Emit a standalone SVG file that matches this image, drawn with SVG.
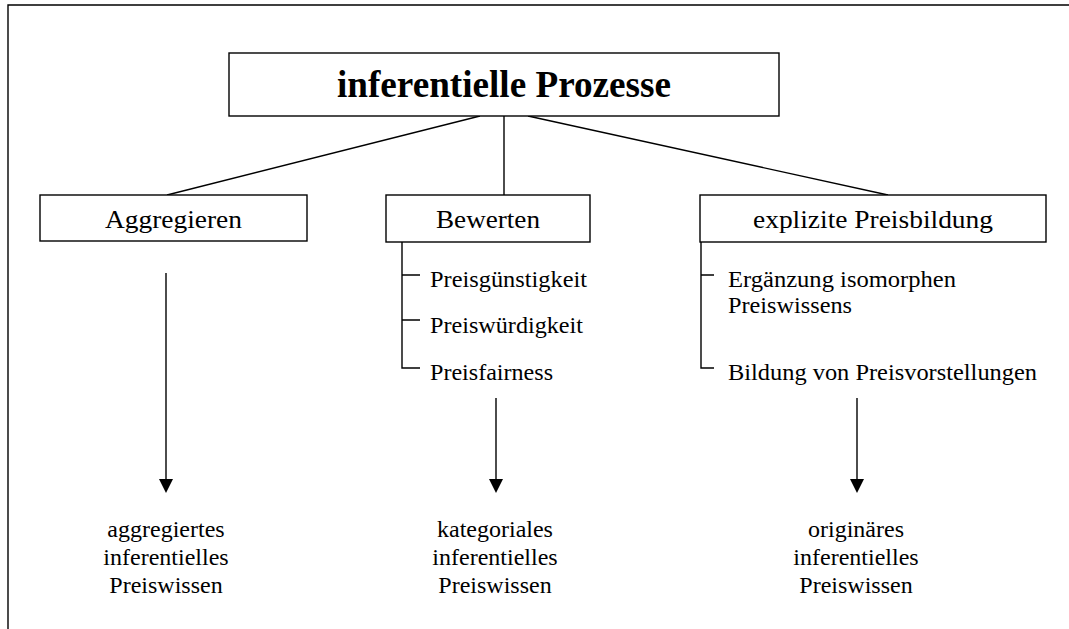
<svg xmlns="http://www.w3.org/2000/svg" width="1069" height="629" viewBox="0 0 1069 629">
<style>
  .box { fill: #ffffff; stroke: #000000; stroke-width: 1.4; }
  .ln { fill: none; stroke: #000000; stroke-width: 1.4; }
  .t { font-family: "Liberation Serif", "Times New Roman", serif; fill: #000000; }
  .title { font-size: 37px; font-weight: bold; text-anchor: middle; }
  .lbl { font-size: 25px; text-anchor: middle; }
  .sub { font-size: 24px; }
  .res { font-size: 24px; text-anchor: middle; }
  .head { fill: #000000; }
</style>
<rect width="1069" height="629" fill="#ffffff"/>
<path class="ln" d="M8,629 V5 H1069"/>

<g id="connectors">
  <line class="ln" x1="480" y1="116" x2="167" y2="195"/>
  <line class="ln" x1="504" y1="116" x2="504" y2="195"/>
  <line class="ln" x1="528" y1="116" x2="888" y2="195"/>
  <path class="ln" d="M402,242 V368 H420 M402,275 H420 M402,320 H420"/>
  <path class="ln" d="M701,242 V368 H714 M701,275 H714"/>
  <line class="ln" x1="166" y1="273" x2="166" y2="481"/>
  <polygon class="head" points="159,479 173,479 166,493"/>
  <line class="ln" x1="496" y1="398" x2="496" y2="481"/>
  <polygon class="head" points="489,479 503,479 496,493"/>
  <line class="ln" x1="857" y1="398" x2="857" y2="481"/>
  <polygon class="head" points="850,479 864,479 857,493"/>
</g>

<g id="root">
  <rect class="box" x="229" y="53" width="550" height="63"/>
  <text class="t title" x="504" y="97" textLength="334" lengthAdjust="spacingAndGlyphs">inferentielle Prozesse</text>
</g>

<g id="aggregieren">
  <rect class="box" x="40" y="195" width="267" height="46"/>
  <text class="t lbl" x="173.5" y="228" textLength="137" lengthAdjust="spacingAndGlyphs">Aggregieren</text>
</g>

<g id="bewerten">
  <rect class="box" x="386" y="195" width="204" height="47"/>
  <text class="t lbl" x="488" y="228" textLength="104" lengthAdjust="spacingAndGlyphs">Bewerten</text>
  <text class="t sub" x="430" y="287" textLength="157" lengthAdjust="spacingAndGlyphs">Preisgünstigkeit</text>
  <text class="t sub" x="430" y="333" textLength="153" lengthAdjust="spacingAndGlyphs">Preiswürdigkeit</text>
  <text class="t sub" x="430" y="380" textLength="123" lengthAdjust="spacingAndGlyphs">Preisfairness</text>
</g>

<g id="preisbildung">
  <rect class="box" x="700" y="195" width="346" height="47"/>
  <text class="t lbl" x="873" y="228" textLength="240" lengthAdjust="spacingAndGlyphs">explizite Preisbildung</text>
  <text class="t sub" x="728" y="287" textLength="228" lengthAdjust="spacingAndGlyphs">Ergänzung isomorphen</text>
  <text class="t sub" x="728" y="313" textLength="124" lengthAdjust="spacingAndGlyphs">Preiswissens</text>
  <text class="t sub" x="728" y="380" textLength="309" lengthAdjust="spacingAndGlyphs">Bildung von Preisvorstellungen</text>
</g>

<g id="result-aggregiert">
  <text class="t res" x="166" y="537">aggregiertes</text>
  <text class="t res" x="166" y="565">inferentielles</text>
  <text class="t res" x="166" y="593">Preiswissen</text>
</g>

<g id="result-kategorial">
  <text class="t res" x="495" y="537">kategoriales</text>
  <text class="t res" x="495" y="565">inferentielles</text>
  <text class="t res" x="495" y="593">Preiswissen</text>
</g>

<g id="result-originaer">
  <text class="t res" x="856" y="537">originäres</text>
  <text class="t res" x="856" y="565">inferentielles</text>
  <text class="t res" x="856" y="593">Preiswissen</text>
</g>
</svg>
